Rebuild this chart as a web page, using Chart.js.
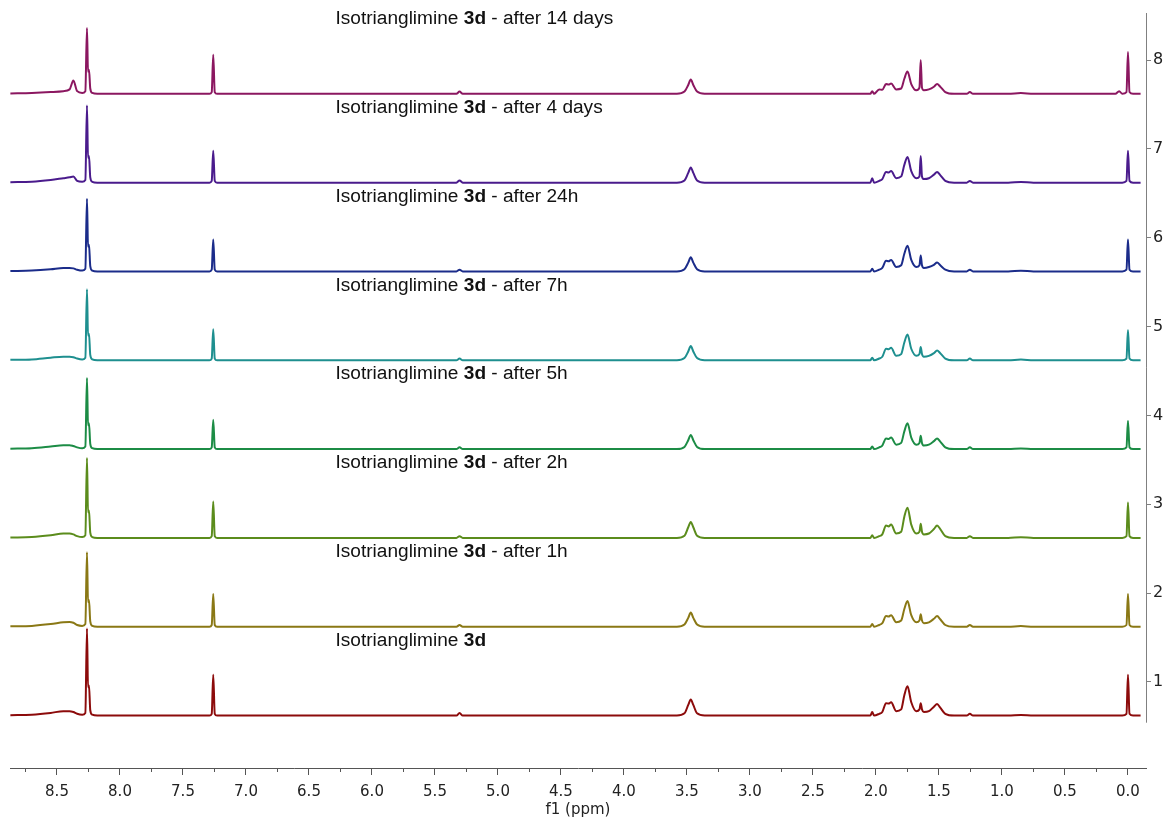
<!DOCTYPE html>
<html><head><meta charset="utf-8">
<script src="https://cdn.jsdelivr.net/npm/chart.js@4/dist/chart.umd.min.js"></script>
<style>html,body{margin:0;padding:0;background:#fff;}#wrap{width:1167px;height:820px;}</style>
</head><body><div id="wrap"><canvas id="c" width="1167" height="820"></canvas></div>
<script>
// chemical shift grid (ppm), shared by all spectra
const ppm = [8.87, 8.70, 8.55, 8.45, 8.40, 8.37, 8.34, 8.30, 8.275, 8.262, 8.254, 8.246, 8.236, 8.22, 8.18,
  7.29, 7.272, 7.26, 7.248, 7.23, 5.33, 5.305, 5.28,
  3.58, 3.52, 3.49, 3.47, 3.45, 3.42, 3.36,
  2.08, 2.045, 2.03, 2.015, 1.975, 1.95, 1.92, 1.90, 1.88, 1.84, 1.80, 1.775, 1.75, 1.72, 1.68,
  1.655, 1.645, 1.635, 1.62, 1.58, 1.54, 1.515, 1.49, 1.45, 1.38, 1.28, 1.255, 1.23, 0.95, 0.85, 0.75,
  0.10, 0.07, 0.045, 0.012, 0.0, -0.012, -0.04, -0.10];

// intensities above each spectrum's baseline
const spec1h = [0.005,0.01,0.03,0.05,0.05,0.04,0.02,0.01,0.03,0.98,0.32,0.34,0.06,0.01,0,
  0,0.02,0.46,0.02,0, 0,0.03,0,
  0,0.025,0.12,0.18,0.12,0.025,0,
  0,0,0.04,0,0.02,0.04,0.14,0.135,0.15,0.05,0.07,0.23,0.33,0.15,0.05,
  0.07,0.14,0.07,0.04,0.05,0.10,0.13,0.09,0.02,0,0,0.02,0,0,0.008,0,
  0,0,0,0.02,0.46,0.02,0,0];
const spec2h = [0.005,0.01,0.03,0.05,0.055,0.045,0.02,0.01,0.03,0.84,0.28,0.30,0.06,0.01,0,
  0,0.02,0.37,0.02,0, 0,0.02,0,
  0,0.025,0.10,0.16,0.10,0.025,0,
  0,0,0.03,0,0.02,0.04,0.12,0.115,0.13,0.05,0.07,0.20,0.29,0.13,0.05,
  0.07,0.14,0.07,0.04,0.05,0.09,0.12,0.085,0.02,0,0,0.02,0,0,0.008,0,
  0,0,0,0.02,0.37,0.02,0,0];
const spec3h = [0.005,0.01,0.03,0.05,0.05,0.04,0.02,0.01,0.03,0.90,0.29,0.31,0.06,0.01,0,
  0,0.02,0.41,0.02,0, 0,0.02,0,
  0,0.025,0.12,0.18,0.12,0.025,0,
  0,0,0.03,0,0.02,0.04,0.14,0.13,0.15,0.05,0.07,0.24,0.34,0.15,0.05,
  0.07,0.16,0.07,0.04,0.05,0.10,0.14,0.10,0.02,0,0,0.02,0,0,0.008,0,
  0,0,0,0.02,0.40,0.02,0,0];
const spec4h = [0.005,0.01,0.03,0.045,0.045,0.035,0.02,0.01,0.03,0.80,0.27,0.29,0.06,0.01,0,
  0,0.02,0.33,0.02,0, 0,0.02,0,
  0,0.025,0.10,0.16,0.10,0.025,0,
  0,0,0.03,0,0.02,0.04,0.12,0.115,0.13,0.05,0.07,0.20,0.29,0.13,0.05,
  0.07,0.15,0.07,0.04,0.05,0.09,0.12,0.085,0.02,0,0,0.02,0,0,0.008,0,
  0,0,0,0.02,0.32,0.02,0,0];
const spec5h = [0.005,0.01,0.03,0.04,0.04,0.035,0.02,0.01,0.03,0.80,0.28,0.30,0.06,0.01,0,
  0,0.02,0.35,0.02,0, 0,0.02,0,
  0,0.025,0.10,0.16,0.10,0.025,0,
  0,0,0.03,0,0.02,0.04,0.13,0.125,0.14,0.05,0.07,0.20,0.29,0.13,0.05,
  0.07,0.15,0.07,0.04,0.05,0.08,0.11,0.08,0.02,0,0,0.02,0,0,0.008,0,
  0,0,0,0.02,0.34,0.02,0,0];
const spec6h = [0.005,0.01,0.025,0.04,0.04,0.035,0.02,0.01,0.03,0.82,0.28,0.30,0.06,0.01,0,
  0,0.02,0.36,0.02,0, 0,0.02,0,
  0,0.025,0.10,0.16,0.10,0.025,0,
  0,0,0.03,0,0.02,0.04,0.12,0.115,0.13,0.05,0.07,0.20,0.29,0.13,0.05,
  0.07,0.18,0.07,0.04,0.05,0.075,0.10,0.07,0.02,0,0,0.02,0,0,0.008,0,
  0,0,0,0.02,0.36,0.02,0,0];
const spec7h = [0.005,0.01,0.03,0.05,0.06,0.07,0.02,0.01,0.03,0.87,0.28,0.30,0.06,0.01,0,
  0,0.02,0.36,0.02,0, 0,0.025,0,
  0,0.025,0.11,0.17,0.11,0.025,0,
  0,0,0.05,0,0.02,0.04,0.12,0.115,0.13,0.05,0.07,0.20,0.29,0.13,0.05,
  0.07,0.30,0.07,0.04,0.05,0.09,0.12,0.085,0.02,0,0,0.02,0,0,0.008,0,
  0,0,0,0.02,0.36,0.02,0,0];
const spec8h = [0.005,0.01,0.02,0.03,0.05,0.15,0.03,0.01,0.03,0.74,0.25,0.27,0.06,0.01,0,
  0,0.02,0.44,0.02,0, 0,0.025,0,
  0,0.025,0.10,0.16,0.10,0.025,0,
  0,0,0.03,0,0.05,0.045,0.11,0.105,0.115,0.05,0.06,0.17,0.25,0.11,0.04,
  0.07,0.38,0.07,0.04,0.05,0.08,0.11,0.08,0.02,0,0,0.02,0,0,0.01,0,
  0,0.03,0,0.02,0.47,0.02,0,0];

const spectra = [spec1h, spec2h, spec3h, spec4h, spec5h, spec6h, spec7h, spec8h];
const baselines = [0.62, 1.62, 2.62, 3.62, 4.62, 5.62, 6.62, 7.62];
const colors = ["#8c0b0b", "#8a7815", "#5b8c1c", "#1c8c45", "#1e8f8f", "#1b2c8a", "#4a1b8c", "#8b1760"];
const labelPrefix = "Isotrianglimine ";
const labelBold = "3d";
const labelSuffix = ["", " - after 1h", " - after 2h", " - after 5h", " - after 7h", " - after 24h", " - after 4 days", " - after 14 days"];
const xMajorTicks = [0, 0.5, 1.0, 1.5, 2.0, 2.5, 3.0, 3.5, 4.0, 4.5, 5.0, 5.5, 6.0, 6.5, 7.0, 7.5, 8.0, 8.5];
const xMinorTicks = [0.25, 0.75, 1.25, 1.75, 2.25, 2.75, 3.25, 3.75, 4.25, 4.75, 5.25, 5.75, 6.25, 6.75, 7.25, 7.75, 8.25, 8.75];
const yTicks = [1, 2, 3, 4, 5, 6, 7, 8];
const xTitle = "f1 (ppm)";

const datasets = spectra.map((vals, i) => ({
  label: labelPrefix + labelBold + labelSuffix[i],
  data: ppm.map((p, k) => ({x: p, y: baselines[i] + vals[k]})),
  borderColor: colors[i],
  borderWidth: 2,
  pointRadius: 0,
  fill: false,
  cubicInterpolationMode: 'monotone'
}));

const decor = {
  id: 'decor',
  afterDraw(chart) {
    const ctx = chart.ctx, xs = chart.scales.x, ys = chart.scales.y, ca = chart.chartArea;
    ctx.save();
    // right vertical axis line
    ctx.strokeStyle = '#808080'; ctx.lineWidth = 1;
    ctx.beginPath();
    ctx.moveTo(Math.round(ca.right) + 0.5, ys.getPixelForValue(8.53));
    ctx.lineTo(Math.round(ca.right) + 0.5, ys.getPixelForValue(0.54));
    ctx.stroke();
    // minor ticks
    ctx.strokeStyle = '#555';
    xMinorTicks.forEach(v => {
      const px = Math.round(xs.getPixelForValue(v)) + 0.5;
      ctx.beginPath(); ctx.moveTo(px, ca.bottom); ctx.lineTo(px, ca.bottom + 4); ctx.stroke();
    });
    // spectrum labels
    ctx.textBaseline = 'middle'; ctx.fillStyle = '#111';
    const normal = '18px "Liberation Sans", Arial, sans-serif';
    const bold = 'bold 18px "Liberation Sans", Arial, sans-serif';
    baselines.forEach((b, i) => {
      const x0 = xs.getPixelForValue(6.29);
      const y = ys.getPixelForValue(b + 0.84);
      ctx.save();
      ctx.translate(x0, y);
      ctx.scale(1.06, 1);
      let x = 0;
      ctx.font = normal; ctx.fillText(labelPrefix, x, 0); x += ctx.measureText(labelPrefix).width;
      ctx.font = bold; ctx.fillText(labelBold, x, 0); x += ctx.measureText(labelBold).width;
      ctx.font = normal; ctx.fillText(labelSuffix[i], x, 0);
      ctx.restore();
    });
    ctx.restore();
  }
};

new Chart(document.getElementById('c'), {
  type: 'line',
  data: {datasets},
  plugins: [decor],
  options: {
    responsive: false, animation: false, devicePixelRatio: 1,
    layout: {padding: {top: 13, left: 10, right: 0, bottom: 0}},
    plugins: {legend: {display: false}, tooltip: {enabled: false}},
    scales: {
      x: {
        type: 'linear', reverse: true, min: -0.143, max: 8.873,
        afterBuildTicks: s => { s.ticks = xMajorTicks.map(v => ({value: v})); },
        afterFit: s => { s.height = 52; },
        ticks: {autoSkip: false, maxRotation: 0, padding: 8, color: '#222',
          font: {family: '"DejaVu Sans", Verdana, sans-serif', size: 15},
          callback: v => Number(v).toFixed(1)},
        grid: {drawOnChartArea: false, drawTicks: true, tickLength: 7, tickColor: '#555', color: '#555'},
        border: {display: true, color: '#555', width: 1},
        title: {display: true, text: xTitle, color: '#222',
          font: {family: '"DejaVu Sans", Verdana, sans-serif', size: 15}, padding: {top: 0, bottom: 1}}
      },
      y: {
        type: 'linear', position: 'right', min: 0.03, max: 8.53,
        afterBuildTicks: s => { s.ticks = yTicks.map(v => ({value: v})); },
        afterFit: s => { s.width = 21; },
        ticks: {padding: 2, color: '#222', font: {family: '"DejaVu Sans", Verdana, sans-serif', size: 16},
          callback: v => String(v)},
        grid: {drawOnChartArea: false, drawTicks: true, tickLength: 5, tickColor: '#808080'},
        border: {display: false}
      }
    }
  }
});
</script></body></html>
